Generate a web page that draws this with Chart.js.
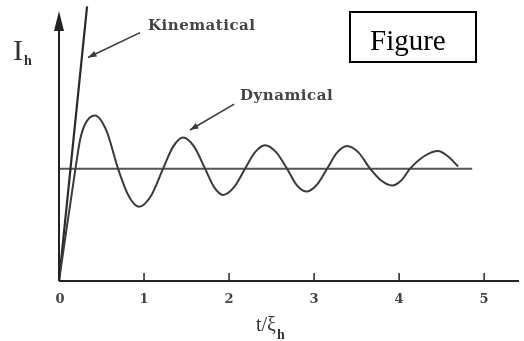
<!DOCTYPE html>
<html>
<head>
<meta charset="utf-8">
<title>Figure</title>
<script src="https://cdn.jsdelivr.net/npm/chart.js@4"></script>
<style>
    html, body { margin: 0; padding: 0; background: #fff; }
    #wrap { width: 524px; height: 341px; }
</style>
</head>
<body>
<div id="wrap"><canvas id="chart" width="524" height="341"></canvas></div>
<script>
// values (t in units of xi_h, intensity in arbitrary units)
const dynT = [0, 0.082, 0.165, 0.2, 0.247, 0.306, 0.424, 0.559, 0.694, 0.818, 0.941, 1.083, 1.224, 1.342, 1.459, 1.589, 1.718,
    1.824, 1.929, 2.059, 2.188, 2.306, 2.424, 2.553, 2.682, 2.794, 2.906, 3.03, 3.153, 3.27, 3.388, 3.524, 3.659,
    3.789, 3.918, 4.024, 4.129, 4.294, 4.459, 4.58, 4.694];
const dynI = [0, 1.74, 3.47, 4.2, 5.1, 5.68, 6.0, 5.44, 4.07, 3.09, 2.69, 3.09, 4.07, 4.87, 5.2, 4.87, 4.07,
    3.4, 3.12, 3.4, 4.07, 4.67, 4.92, 4.67, 4.07, 3.48, 3.24, 3.48, 4.07, 4.65, 4.89, 4.65, 4.07,
    3.64, 3.46, 3.64, 4.07, 4.52, 4.71, 4.5, 4.15];
const kinT = [0, 0.33];
const kinI = [0, 9.95];
const meanT = [0, 4.86];
const meanI = [4.07, 4.07];
const xTicks = [0, 1, 2, 3, 4, 5];

const toPoints = (xs, ys) => xs.map((x, i) => ({ x: x, y: ys[i] }));

document.addEventListener('DOMContentLoaded', function () {

    const lineColor = '#3a3a3a';
    const textColor = '#444';

    function arrow(ctx, x1, y1, x2, y2, size) {
        const a = Math.atan2(y2 - y1, x2 - x1);
        ctx.beginPath();
        ctx.moveTo(x1, y1);
        ctx.lineTo(x2, y2);
        ctx.stroke();
        ctx.beginPath();
        ctx.moveTo(x2, y2);
        ctx.lineTo(x2 - size * Math.cos(a - 0.35), y2 - size * Math.sin(a - 0.35));
        ctx.lineTo(x2 - size * Math.cos(a + 0.35), y2 - size * Math.sin(a + 0.35));
        ctx.closePath();
        ctx.fill();
    }

    // text with a subscript right after it
    function subText(ctx, main, sub, x, y, mainFont, subFont, drop) {
        ctx.font = mainFont;
        ctx.fillText(main, x, y);
        const w = ctx.measureText(main).width;
        ctx.font = subFont;
        ctx.fillText(sub, x + w + 1, y + drop);
    }

    // axes, ticks, labels and annotations
    const decorations = {
        id: 'decorations',
        afterDatasetsDraw(chart) {
            const ctx = chart.ctx;
            const xs = chart.scales.x;
            const ys = chart.scales.y;
            const x0 = xs.getPixelForValue(0);
            const y0 = ys.getPixelForValue(0);

            ctx.save();
            ctx.strokeStyle = '#222';
            ctx.fillStyle = '#222';
            ctx.lineWidth = 2;

            // x axis
            ctx.beginPath();
            ctx.moveTo(x0, y0);
            ctx.lineTo(xs.right, y0);
            ctx.stroke();

            // y axis with arrow head
            ctx.beginPath();
            ctx.moveTo(x0, y0);
            ctx.lineTo(x0, 26);
            ctx.stroke();
            ctx.beginPath();
            ctx.moveTo(x0, 11);
            ctx.lineTo(x0 - 5, 31);
            ctx.lineTo(x0 + 5, 31);
            ctx.closePath();
            ctx.fill();

            // tick marks and labels
            ctx.lineWidth = 1.5;
            ctx.font = 'bold 13px "DejaVu Serif", serif';
            ctx.fillStyle = textColor;
            ctx.textAlign = 'center';
            ctx.textBaseline = 'middle';
            xTicks.forEach(v => {
                const px = xs.getPixelForValue(v);
                if (v > 0) {
                    ctx.beginPath();
                    ctx.moveTo(px, y0);
                    ctx.lineTo(px, y0 - 8);
                    ctx.stroke();
                }
                ctx.fillText(String(v), px + (v === 0 ? 1 : 0), y0 + 19);
            });

            // axis titles
            ctx.fillStyle = '#333';
            ctx.textAlign = 'left';
            ctx.textBaseline = 'alphabetic';
            subText(ctx, 't/ξ', 'h', 256, 331, '20px "Liberation Serif", serif', 'bold 14px "Liberation Serif", serif', 8);
            subText(ctx, 'I', 'h', 13, 60, '30px "Liberation Serif", serif', 'bold 14px "Liberation Serif", serif', 5);

            // annotations
            ctx.fillStyle = textColor;
            ctx.strokeStyle = lineColor;
            ctx.lineWidth = 1.6;
            ctx.font = 'bold 15px "DejaVu Serif", serif';
            ctx.letterSpacing = '0.5px';
            ctx.textBaseline = 'middle';
            ctx.fillText('Kinematical', xs.getPixelForValue(1.047), ys.getPixelForValue(9.25));
            ctx.fillText('Dynamical', xs.getPixelForValue(2.13), ys.getPixelForValue(6.7));
            ctx.letterSpacing = '0px';
            ctx.fillStyle = lineColor;
            arrow(ctx, xs.getPixelForValue(0.953), ys.getPixelForValue(9.0),
                xs.getPixelForValue(0.341), ys.getPixelForValue(8.1), 9);
            arrow(ctx, xs.getPixelForValue(2.06), ys.getPixelForValue(6.41),
                xs.getPixelForValue(1.54), ys.getPixelForValue(5.47), 9);

            // figure box
            ctx.strokeStyle = '#000';
            ctx.lineWidth = 2;
            ctx.strokeRect(350, 12, 126, 50);
            ctx.fillStyle = '#000';
            ctx.textBaseline = 'alphabetic';
            ctx.font = '29px "Liberation Serif", serif';
            ctx.fillText('Figure', 370, 50);

            ctx.restore();
        }
    };

    const ctx = document.getElementById('chart').getContext('2d');
    new Chart(ctx, {
        type: 'line',
        data: {
            datasets: [
                {
                    label: 'Dynamical',
                    data: toPoints(dynT, dynI),
                    borderColor: lineColor,
                    borderWidth: 2,
                    pointRadius: 0,
                    cubicInterpolationMode: 'monotone'
                },
                {
                    label: 'Kinematical',
                    data: toPoints(kinT, kinI),
                    borderColor: '#2a2a2a',
                    borderWidth: 2.2,
                    pointRadius: 0
                },
                {
                    label: 'Mean',
                    data: toPoints(meanT, meanI),
                    borderColor: '#555',
                    borderWidth: 2,
                    pointRadius: 0
                }
            ]
        },
        options: {
            responsive: false,
            animation: false,
            layout: { padding: { left: 59, right: 5, top: 5, bottom: 60 } },
            plugins: {
                legend: { display: false },
                tooltip: { enabled: false }
            },
            scales: {
                x: { type: 'linear', min: 0, max: 5.41, display: false },
                y: { type: 'linear', min: 0, max: 10, display: false }
            }
        },
        plugins: [decorations]
    });

});
</script>
</body>
</html>
